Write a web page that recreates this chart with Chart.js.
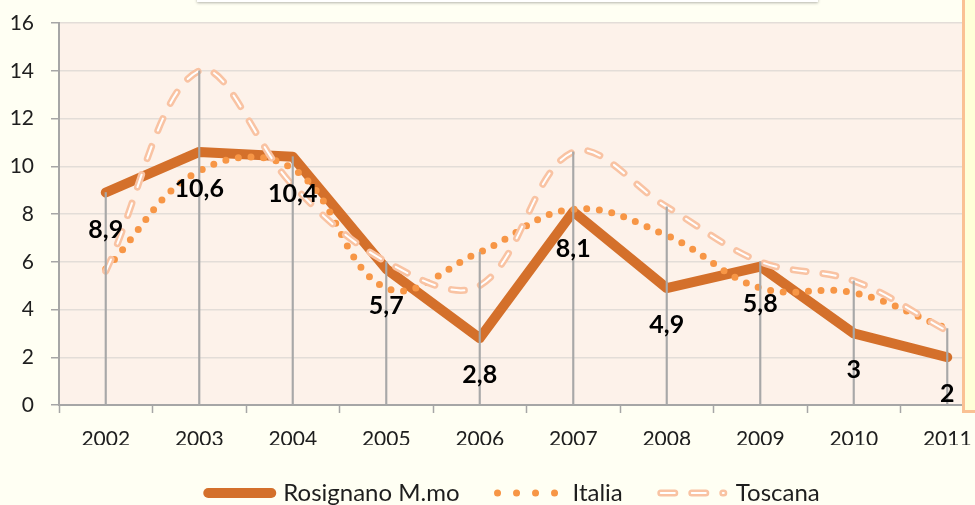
<!DOCTYPE html>
<html>
<head>
<meta charset="utf-8">
<script src="https://cdn.jsdelivr.net/npm/chart.js@4.4.1/dist/chart.umd.min.js"></script>
<style>
  html, body { margin: 0; padding: 0; background: #FFFFF3; overflow: hidden; }
  #wrap { position: relative; width: 975px; height: 505px; overflow: hidden; }
  #wrap canvas { position: absolute; left: 0; top: 0; }
  .topbox { position: absolute; left: 197px; top: -8px; width: 621px; height: 10px;
            background: #fff; box-shadow: 0 1px 3px rgba(0,0,0,0.3); }
  .sidebox { position: absolute; left: 962px; top: -4px; width: 40px; height: 417px;
             background: #FFFFD8; border: 3px solid #FAC194; box-sizing: border-box; }
</style>
</head>
<body>
<div id="wrap">
  <canvas id="chart" width="1000" height="505"></canvas>
  <div class="topbox"></div>
  <div class="sidebox"></div>
</div>
<script>
const years = ['2002', '2003', '2004', '2005', '2006', '2007', '2008', '2009', '2010', '2011'];
const rosignano = [8.9, 10.6, 10.4, 5.7, 2.8, 8.1, 4.9, 5.8, 3, 2];
const italia = [5.7, 9.8, 9.9, 4.9, 6.4, 8.2, 7.1, 4.9, 4.7, 3.2];
const toscana = [5.6, 14.0, 9.2, 6.0, 5.0, 10.6, 8.3, 6.0, 5.2, 3.1];
const yTicks = [0, 2, 4, 6, 8, 10, 12, 14, 16];

// drop lines go from the axis up to the highest of the three series
const dropLines = years.map((y, i) => Math.max(rosignano[i], italia[i], toscana[i]));

const rosColor = '#D4702B';
const itaColor = '#F79646';
const tosColor = '#F9C3A3';
const textColor = '#1E1E1E';
const fontFamily = 'Lato, "Open Sans", sans-serif';

const plotBackground = {
  id: 'plotBackground',
  afterLayout(chart) {
    // the original legend is centred on a wider chart, nudge it
    chart.legend.left += 34;
    chart.legend.top -= 2;
  },
  beforeDraw(chart) {
    const { ctx, chartArea } = chart;
    ctx.save();
    ctx.fillStyle = '#FDF2EA';
    ctx.fillRect(chartArea.left, chartArea.top, chartArea.right - chartArea.left, chartArea.bottom - chartArea.top);
    ctx.restore();
  }
};

const valueLabels = {
  id: 'valueLabels',
  afterDatasetsDraw(chart) {
    const ctx = chart.ctx;
    const meta = chart.getDatasetMeta(4);
    ctx.save();
    ctx.font = 'bold 25px ' + fontFamily;
    ctx.fillStyle = '#000';
    ctx.textAlign = 'center';
    ctx.textBaseline = 'middle';
    meta.data.forEach((pt, i) => {
      ctx.fillText(String(rosignano[i]).replace('.', ','), pt.x, pt.y + 37);
    });
    ctx.restore();
  },
  afterDraw(chart) {
    // white stripe inside the Toscana legend sample
    const hb = chart.legend.legendHitBoxes[2];
    if (!hb) return;
    const ctx = chart.ctx;
    ctx.save();
    ctx.strokeStyle = '#fff';
    ctx.lineWidth = 2;
    ctx.lineCap = 'round';
    ctx.setLineDash([14, 17]);
    ctx.beginPath();
    ctx.moveTo(hb.left, hb.top + 12);
    ctx.lineTo(hb.left + 63, hb.top + 12);
    ctx.stroke();
    ctx.restore();
  }
};

new Chart(document.getElementById('chart'), {
  data: {
    labels: years,
    datasets: [
      {
        type: 'bar',
        label: 'drop',
        data: dropLines,
        backgroundColor: '#A8A8A8',
        barThickness: 1.5,
        order: 0
      },
      {
        type: 'line',
        label: 'Toscana inner',
        data: toscana,
        borderColor: '#FFFFFF',
        borderWidth: 2,
        borderDash: [13, 17],
        borderCapStyle: 'round',
        tension: 0.36,
        pointRadius: 0,
        order: 1
      },
      {
        type: 'line',
        label: 'Toscana',
        data: toscana,
        borderColor: tosColor,
        borderWidth: 7,
        borderDash: [13, 17],
        borderCapStyle: 'round',
        tension: 0.36,
        pointRadius: 0,
        order: 2
      },
      {
        type: 'line',
        label: 'Italia',
        data: italia,
        borderColor: itaColor,
        borderWidth: 7,
        borderDash: [0, 12.7],
        borderCapStyle: 'round',
        tension: 0.4,
        pointRadius: 0,
        order: 3
      },
      {
        type: 'line',
        label: 'Rosignano M.mo',
        data: rosignano,
        borderColor: rosColor,
        borderWidth: 10,
        borderCapStyle: 'round',
        borderJoinStyle: 'round',
        tension: 0,
        pointRadius: 0,
        order: 4
      }
    ]
  },
  options: {
    responsive: false,
    animation: false,
    events: [],
    layout: { padding: { top: 23, right: 6, left: 0, bottom: 0 } },
    scales: {
      x: {
        offset: true,
        afterFit: s => { s.height = 40; },
        grid: { drawOnChartArea: false, offset: true, tickLength: 8, tickColor: '#A6A6A6', tickWidth: 1.5 },
        border: { color: '#A6A6A6', width: 2 },
        ticks: { color: textColor, font: { family: fontFamily, size: 21 }, padding: 14, maxRotation: 0 }
      },
      y: {
        min: 0,
        max: 16,
        afterFit: s => { s.width = 59; s.paddingTop = 12; s.paddingBottom = 12; },
        afterBuildTicks: s => { s.ticks = yTicks.map(v => ({ value: v })); },
        grid: { color: '#E3DDD8', lineWidth: 1.5, tickLength: 8, tickColor: '#A6A6A6', tickWidth: 1.5 },
        border: { color: '#A6A6A6', width: 2 },
        ticks: { color: textColor, font: { family: fontFamily, size: 21 }, padding: 17 }
      }
    },
    plugins: {
      tooltip: { enabled: false },
      legend: {
        position: 'bottom',
        maxHeight: 60,
        labels: {
          usePointStyle: true,
          pointStyleWidth: 63,
          boxHeight: 10,
          padding: 38,
          color: textColor,
          font: { family: fontFamily, size: 24 },
          generateLabels: () => [
            { text: 'Rosignano M.mo', strokeStyle: rosColor, fillStyle: 'rgba(0,0,0,0)', lineWidth: 10,
              lineCap: 'round', lineDash: [], pointStyle: 'line', datasetIndex: 4, fontColor: textColor },
            { text: 'Italia', strokeStyle: itaColor, fillStyle: 'rgba(0,0,0,0)', lineWidth: 7,
              lineCap: 'round', lineDash: [0, 19], pointStyle: 'line', datasetIndex: 3, fontColor: textColor },
            { text: 'Toscana', strokeStyle: tosColor, fillStyle: 'rgba(0,0,0,0)', lineWidth: 7,
              lineCap: 'round', lineDash: [14, 17], pointStyle: 'line', datasetIndex: 2, fontColor: textColor }
          ]
        }
      }
    }
  },
  plugins: [plotBackground, valueLabels]
});
</script>
</body>
</html>
